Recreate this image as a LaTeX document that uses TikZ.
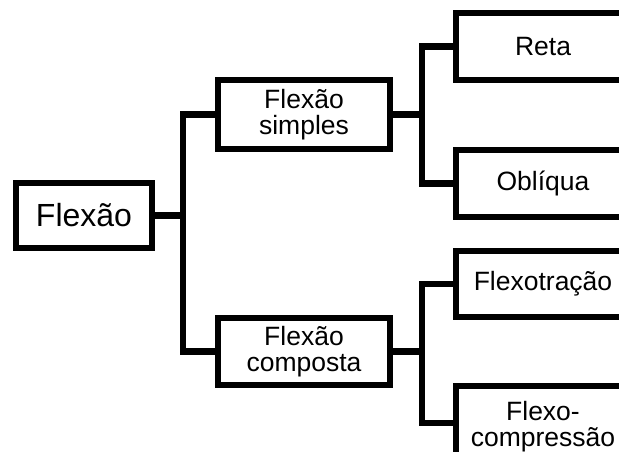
\documentclass[tikz,border=0pt]{standalone}
\usepackage{fontspec}
\setmainfont{Liberation Sans}
\begin{document}
\begin{tikzpicture}[x=1pt,y=-1pt,
  box/.style={draw=black,line width=6.5pt,fill=white,rectangle,inner sep=0pt,
    align=center,font=\fontsize{26.5}{26}\selectfont},
  conn/.style={draw=black,line width=6.5pt,line cap=rect,line join=miter}]
\useasboundingbox (0,0) rectangle (619,452);
\clip (0,0) rectangle (619,452);
\node[box,minimum width=136pt,minimum height=65pt,font=\fontsize{32}{32}\selectfont] (root) at (84,215.5) {Flexão};
\node[box,minimum width=172pt,minimum height=69pt] (fs) at (304,114.5) {Flexão\\simples};
\node[box,minimum width=172pt,minimum height=67pt] (fc) at (304,351.5) {Flexão\\composta};
\node[box,minimum width=174pt,minimum height=67pt] (reta) at (543,46.5) {Reta};
\node[box,minimum width=174pt,minimum height=67pt] (obl) at (543,183.5) {Oblíqua};
\node[box,minimum width=174pt,minimum height=66pt] (ftr) at (543,284) {Flexotração};
\node[box,minimum width=174pt,minimum height=82pt] (fcp) at (543,427) {Flexo-\\compressão};
\coordinate (j1) at (183,215.5);
\coordinate (j2) at (422,114.5);
\coordinate (j3) at (422,351.5);
\draw[conn] (root.east) -- (j1);
\draw[conn] (fs.west) -| (j1);
\draw[conn] (fc.west) -| (j1);
\draw[conn] (fs.east) -- (j2);
\draw[conn] (reta.west) -| (j2);
\draw[conn] (obl.west) -| (j2);
\draw[conn] (fc.east) -- (j3);
\draw[conn] (ftr.west) -| (j3);
\draw[conn] (fcp.west |- 0,423) -| (j3);
\end{tikzpicture}
\end{document}
